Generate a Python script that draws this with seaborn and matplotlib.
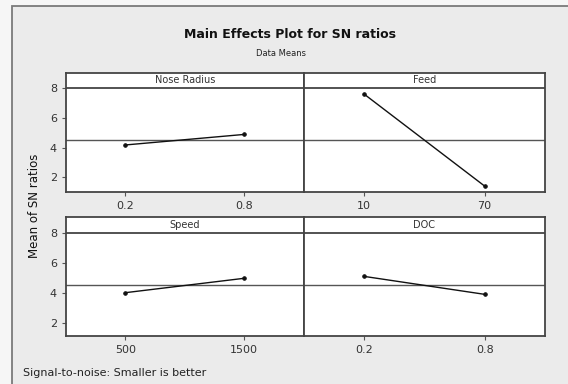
import matplotlib
matplotlib.use("Agg")
import matplotlib.pyplot as plt
import seaborn as sns
import pandas as pd
from matplotlib.patches import Rectangle

factors = ["Nose Radius", "Feed", "Speed", "DOC"]
levels = [["0.2", "0.8"], ["10", "70"], ["500", "1500"], ["0.2", "0.8"]]
sn_means = [[4.18, 4.89], [7.62, 1.41], [4.0, 4.96], [5.09, 3.89]]
y_ticks = [2, 4, 6, 8]

grand_mean = sum(sum(v) for v in sn_means) / 8.0

sns.set_style("white")
plt.rcParams["font.family"] = ["DejaVu Sans"]

W, H = 568, 384
fig = plt.figure(figsize=(W / 100, H / 100), dpi=100)
fig.patch.set_facecolor("#f6f6f6")

bg = Rectangle((12 / W, -0.5), 2.0, 1.5 - 6 / H, transform=fig.transFigure,
               facecolor="#ebebeb", edgecolor="#7a7a7a", linewidth=1.3, zorder=-10)
fig.add_artist(bg)

fig.text(290 / W, 1 - 34 / H, "Main Effects Plot for SN ratios", ha="center", va="center",
         fontsize=9, fontweight="bold", color="#111111")
fig.text(281 / W, 1 - 53 / H, "Data Means", ha="center", va="center", fontsize=6,
         color="#222222")

xs = [66, 303.5, 545]
rows = [(72.7, 192.3, 0.99, 9.05), (217.3, 336, 1.11, 9.03)]

for i, (fac, lev, vals) in enumerate(zip(factors, levels, sn_means)):
    r, c = divmod(i, 2)
    top, bot, ylo, yhi = rows[r]
    x0, x1 = xs[c], xs[c + 1]
    ax = fig.add_axes([x0 / W, 1 - bot / H, (x1 - x0) / W, (bot - top) / H])
    ax.set_facecolor("white")
    df = pd.DataFrame({"level": lev, "sn": vals})
    sns.pointplot(data=df, x="level", y="sn", ax=ax, color="#111111",
                  markersize=2.5, linewidth=1.0, errorbar=None)
    ax.set_xlim(-0.5, 1.5)
    ax.set_ylim(ylo, yhi)
    ax.axhline(grand_mean, color="#555555", linewidth=1.0, zorder=1)
    ax.axhline(8, color="#444444", linewidth=1.3, zorder=3)
    ax.text(0.5, (8 + yhi) / 2, fac, transform=ax.get_yaxis_transform(),
            ha="center", va="center", fontsize=7, color="#333333")
    for s in ax.spines.values():
        s.set_color("#444444")
        s.set_linewidth(1.3)
    ax.set_xlabel("")
    ax.set_ylabel("")
    ax.tick_params(axis="x", length=3, width=0.8, color="#555555", labelsize=8,
                   labelcolor="#333333", pad=3.5, bottom=True)
    if c == 0:
        ax.set_yticks(y_ticks)
        ax.tick_params(axis="y", length=3, width=0.8, color="#555555", labelsize=8,
                       labelcolor="#333333", pad=3.5, left=True)
    else:
        ax.set_yticks([])

fig.text(35 / W, 1 - 206 / H, "Mean of SN ratios", rotation=90, ha="center", va="center",
         fontsize=8.5, color="#111111")
fig.text(23 / W, 1 - 373 / H, "Signal-to-noise: Smaller is better", ha="left", va="center",
         fontsize=8, color="#222222")

fig.savefig("out.png", dpi=100, facecolor=fig.get_facecolor())
